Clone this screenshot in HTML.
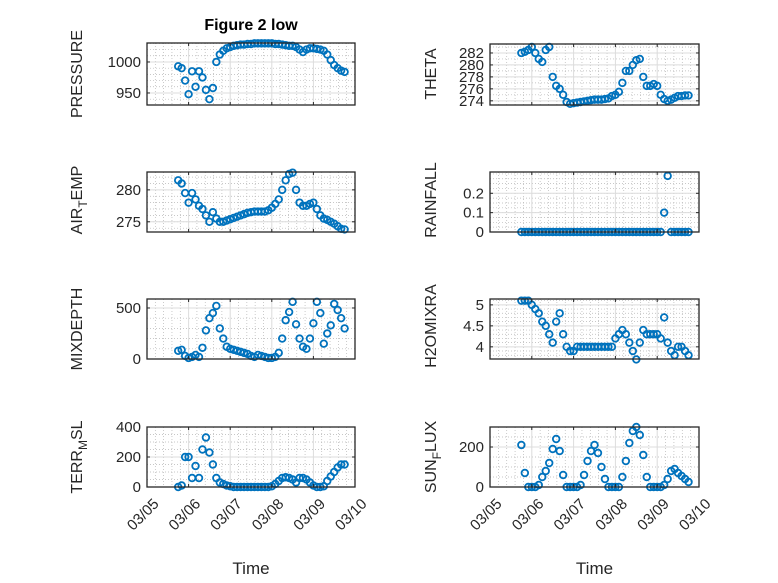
<!DOCTYPE html>
<html>
<head>
<meta charset="utf-8">
<style>
html,body{margin:0;padding:0;background:#fff;}
svg{display:block;font-family:"Liberation Sans","DejaVu Sans",sans-serif;}
</style>
</head>
<body>
<svg id="fig" width="778" height="583" viewBox="0 0 778 583" xmlns="http://www.w3.org/2000/svg">
<rect x="0" y="0" width="778" height="583" fill="#fff"/>
<text x="251" y="30" text-anchor="middle" font-size="16" font-weight="bold" fill="#000">Figure 2 low</text>
</svg>
<script>
// shared time axis: hours after 03/05 00:00
const hours = [18,20,22,24,26,28,30,32,34,36,38,40,42,44,46,48,50,52,54,56,58,60,62,64,66,68,70,72,74,76,78,80,82,84,86,88,90,92,94,96,98,100,102,104,106,108,110,112,114];
const xTickLabels = ["03/05","03/06","03/07","03/08","03/09","03/10"];

const pressure = [993,990,970,948,985,960,985,975,955,940,958,1000,1012,1018,1022,1024,1026,1027,1028,1028,1029,1029,1030,1030,1030,1030,1030,1030,1029,1029,1028,1027,1026,1026,1024,1020,1016,1020,1022,1022,1021,1020,1018,1012,1003,995,990,986,984];
const airTemp = [281.5,281,279.5,278,279.5,278.5,277.5,277,276,275,276.5,275.5,275,275,275.2,275.4,275.6,275.8,276,276.2,276.4,276.5,276.6,276.6,276.6,276.6,276.8,277.2,277.8,278.5,280,281.5,282.5,282.7,280,278,277.5,277.5,277.8,278,277,276,275.5,275.3,275,274.7,274.3,273.9,273.8];
const mixDepth = [80,90,30,10,20,40,20,110,280,400,450,520,300,200,120,100,90,80,70,60,50,30,20,40,30,20,10,10,20,60,200,380,460,560,340,200,120,100,200,350,560,450,150,250,330,540,480,400,300];
const terrMsl = [0,10,200,200,60,140,60,250,330,230,150,60,30,20,10,5,0,0,0,0,0,0,0,0,0,0,0,5,20,40,60,65,60,50,30,60,60,50,30,10,0,0,5,40,70,100,130,150,150];
const theta = [282,282.2,282.5,283,282,281,280.5,282.5,283,278,276.5,276,275,273.8,273.5,273.6,273.7,273.8,273.9,274,274.1,274.2,274.2,274.2,274.3,274.4,274.8,275,275.5,277,279,279,280,280.8,281,278,276.5,276.5,276.8,276.5,275,274.3,274,274.2,274.5,274.8,274.8,274.9,274.9];
const rainfall = [0,0,0,0,0,0,0,0,0,0,0,0,0,0,0,0,0,0,0,0,0,0,0,0,0,0,0,0,0,0,0,0,0,0,0,0,0,0,0,0,0,0.1,0.29,0,0,0,0,0,0];
const h2oMix = [5.1,5.1,5.1,5.0,4.9,4.8,4.6,4.5,4.3,4.1,4.6,4.8,4.3,4.0,3.9,3.9,4.0,4.0,4.0,4.0,4.0,4.0,4.0,4.0,4.0,4.0,4.0,4.2,4.3,4.4,4.3,4.1,3.9,3.7,4.1,4.4,4.3,4.3,4.3,4.3,4.2,4.7,4.1,3.9,3.8,4.0,4.0,3.9,3.8];
const sunFlux = [210,70,0,0,0,10,50,80,120,190,240,180,60,0,0,0,0,10,60,130,180,210,170,100,40,0,0,0,0,50,130,220,280,300,260,160,50,0,0,0,0,10,40,80,90,70,55,40,25];

const pressureTicks = [950,1000];
const airTempTicks = [275,280];
const mixDepthTicks = [0,500];
const terrTicks = [0,200,400];
const thetaTicks = [274,276,278,280,282];
const rainTicks = [0,0.1,0.2];
const h2oTicks = [4,4.5,5];
const sunTicks = [0,200];

const NS = "http://www.w3.org/2000/svg";
const svg = document.getElementById('fig');
function mk(tag, attrs, parent){
  const e = document.createElementNS(NS, tag);
  for (const k in attrs) e.setAttribute(k, attrs[k]);
  (parent||svg).appendChild(e);
  return e;
}

const panels = [
  {key:'pressure', x0:147,x1:355,y0:43,y1:105, ymin:930.6,ymax:1030.6, vals:pressure, ticks:pressureTicks, label:['PRESSURE'], lx:82, ly:74, minor:5, xlabels:false},
  {key:'air-temp', x0:147,x1:355,y0:172,y1:232, ymin:273.4,ymax:282.8, vals:airTemp, ticks:airTempTicks, label:['AIR','T','EMP'], lx:82, ly:200, minor:5, xlabels:false},
  {key:'mixdepth', x0:147,x1:355,y0:299,y1:359, ymin:0,ymax:588, vals:mixDepth, ticks:mixDepthTicks, label:['MIXDEPTH'], lx:82, ly:329, minor:5, xlabels:false},
  {key:'terr-msl', x0:147,x1:355,y0:427,y1:487, ymin:0,ymax:400, vals:terrMsl, ticks:terrTicks, label:['TERR','M','SL'], lx:82, ly:457, minor:4, xlabels:true},
  {key:'theta', x0:490,x1:699,y0:44,y1:105, ymin:273.3,ymax:283.5, vals:theta, ticks:thetaTicks, label:['THETA'], lx:436, ly:74, minor:2, xlabels:false},
  {key:'rainfall', x0:490,x1:699,y0:172,y1:232, ymin:0,ymax:0.31, vals:rainfall, ticks:rainTicks, label:['RAINFALL'], lx:436, ly:200, minor:4, xlabels:false},
  {key:'h2omixra', x0:490,x1:699,y0:299,y1:359, ymin:3.71,ymax:5.14, vals:h2oMix, ticks:h2oTicks, label:['H2OMIXRA'], lx:436, ly:326, minor:5, xlabels:false},
  {key:'sun-flux', x0:490,x1:699,y0:427,y1:487, ymin:0,ymax:300, vals:sunFlux, ticks:sunTicks, label:['SUN','F','LUX'], lx:436, ly:457, minor:4, xlabels:true}
];

panels.forEach(p => {
  const g = mk('g', {});
  
  
  const xs = d => p.x0 + (d/5)*(p.x1-p.x0);
  const ys = v => p.y1 - (v-p.ymin)/(p.ymax-p.ymin)*(p.y1-p.y0);
  for (let i=0;i<25;i++){
    if (i%5===0) continue;
    const x = xs(i/5);
    mk('line',{x1:x,x2:x,y1:p.y0,y2:p.y1,stroke:'#b5b5b5','stroke-width':0.7,'stroke-dasharray':'1,2'},g);
  }
  const step = p.ticks.length>1 ? p.ticks[1]-p.ticks[0] : 1;
  const ms = step/p.minor;
  const start = Math.ceil((p.ymin)/ms)*ms;
  for (let v=start; v<=p.ymax+1e-9; v+=ms){
    const y = ys(v);
    mk('line',{x1:p.x0,x2:p.x1,y1:y,y2:y,stroke:'#b5b5b5','stroke-width':0.7,'stroke-dasharray':'1,2'},g);
  }
  for (let i=1;i<5;i++){
    const x = xs(i);
    mk('line',{x1:x,x2:x,y1:p.y0,y2:p.y1,stroke:'#dcdcdc','stroke-width':1},g);
  }
  p.ticks.forEach(t=>{
    const y = ys(t);
    mk('line',{x1:p.x0,x2:p.x1,y1:y,y2:y,stroke:'#dcdcdc','stroke-width':1},g);
  });
  const n = Math.min(hours.length, p.vals.length);
  for (let i=0;i<n;i++){
    const c = mk('circle',{cx:xs(hours[i]/24),cy:ys(p.vals[i]),r:3.3,fill:'none',stroke:'#0072BD','stroke-width':1.8},g);
    
    
  }
  mk('rect',{x:p.x0,y:p.y0,width:p.x1-p.x0,height:p.y1-p.y0,fill:'none',stroke:'#262626','stroke-width':1.3},g);
  for (let i=0;i<=5;i++){
    const x = xs(i);
    mk('line',{x1:x,x2:x,y1:p.y1,y2:p.y1-3,stroke:'#262626','stroke-width':1},g);
    mk('line',{x1:x,x2:x,y1:p.y0,y2:p.y0+3,stroke:'#262626','stroke-width':1},g);
    if (p.xlabels){
      const tx = x+9, ty = p.y1+14;
      const t = mk('text',{x:tx,y:ty,'text-anchor':'end','font-size':15,fill:'#262626',transform:`rotate(-45 ${tx} ${ty})`,dy:'0.35em'},g);
      
      
      t.textContent = xTickLabels[i];
    }
  }
  p.ticks.forEach(tv=>{
    const y = ys(tv);
    mk('line',{x1:p.x0,x2:p.x0+3,y1:y,y2:y,stroke:'#262626','stroke-width':1},g);
    mk('line',{x1:p.x1,x2:p.x1-3,y1:y,y2:y,stroke:'#262626','stroke-width':1},g);
    const t = mk('text',{x:p.x0-6,y:y+5,'text-anchor':'end','font-size':15,fill:'#262626'},g);
    
    
    t.textContent = String(tv);
  });
  const lab = mk('text',{x:p.lx,y:p.ly,'text-anchor':'middle','font-size':16,fill:'#262626',transform:`rotate(-90 ${p.lx} ${p.ly})`},g);
  
  
  if (p.label.length===1){ lab.textContent = p.label[0]; }
  else {
    const a = mk('tspan',{},lab); a.textContent = p.label[0];
    const b = mk('tspan',{dy:5,'font-size':12},lab); b.textContent = p.label[1];
    const c = mk('tspan',{dy:-5},lab); c.textContent = p.label[2];
  }
  if (p.xlabels){
    const t = mk('text',{x:(p.x0+p.x1)/2,y:574,'text-anchor':'middle','font-size':17,fill:'#262626'},g);
    
    
    t.textContent = 'Time';
  }
});
</script>
</body>
</html>
